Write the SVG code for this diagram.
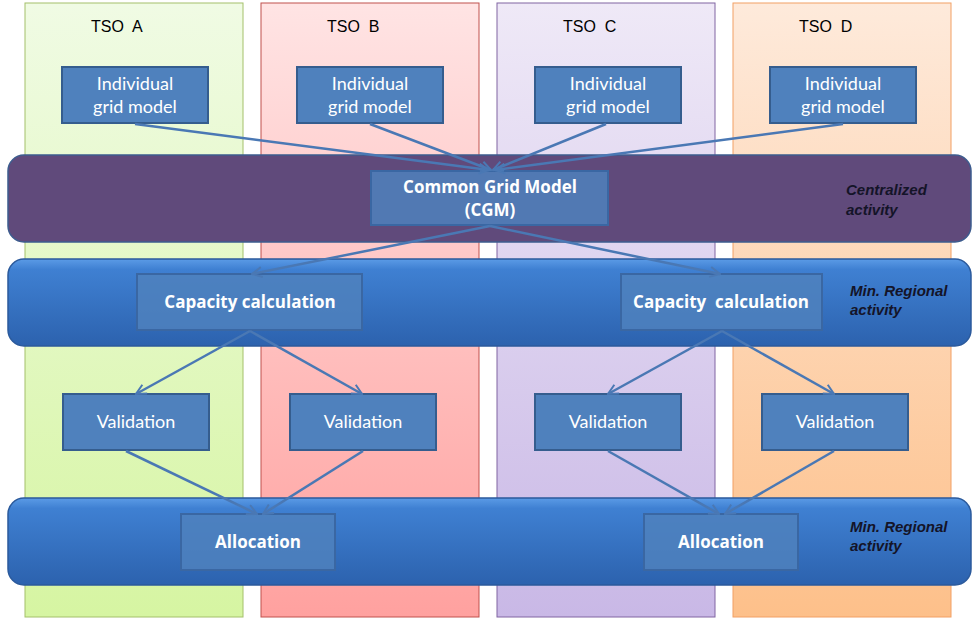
<svg xmlns="http://www.w3.org/2000/svg" width="979" height="626" viewBox="0 0 979 626">
<defs>
<linearGradient id="gA" x1="0" y1="0" x2="0" y2="1"><stop offset="0" stop-color="#f0fbe4"/><stop offset="1" stop-color="#d6f5a2"/></linearGradient>
<linearGradient id="gB" x1="0" y1="0" x2="0" y2="1"><stop offset="0" stop-color="#ffe4e4"/><stop offset="1" stop-color="#ffa19f"/></linearGradient>
<linearGradient id="gC" x1="0" y1="0" x2="0" y2="1"><stop offset="0" stop-color="#efe9f7"/><stop offset="1" stop-color="#c9b8e6"/></linearGradient>
<linearGradient id="gD" x1="0" y1="0" x2="0" y2="1"><stop offset="0" stop-color="#feeadb"/><stop offset="1" stop-color="#fdc08a"/></linearGradient>
<linearGradient id="gBlue" x1="0" y1="0" x2="0" y2="1"><stop offset="0" stop-color="#5b9be6"/><stop offset="0.12" stop-color="#3f80d2"/><stop offset="1" stop-color="#2c62ae"/></linearGradient>
<marker id="ah" viewBox="0 0 12 12" refX="11" refY="6" markerWidth="12" markerHeight="12" markerUnits="userSpaceOnUse" orient="auto">
<polyline points="1,1 11,6 1,11" fill="none" stroke="#4a78b4" stroke-width="2"/>
</marker>
</defs>
<style>
.col{stroke-width:1}
.box{fill:#4f81bd;stroke:#355d8e;stroke-width:2}
.ibox{fill:#4f81bd;fill-opacity:0.85;stroke:#3a67a3;stroke-width:2}
.t{font-family:Lato,"Open Sans",sans-serif;font-size:18px;fill:#ffffff;text-anchor:middle}
.tb{font-family:"Open Sans",Lato,sans-serif;font-size:17px;font-weight:bold;fill:#ffffff;text-anchor:middle}
.hd{font-family:"Liberation Sans",Arial,sans-serif;font-size:16px;fill:#000000}
.note{font-family:"Liberation Sans",Arial,sans-serif;font-size:15px;font-weight:bold;font-style:italic;fill:#141428}
.c{fill:none;stroke:#4a78b4;stroke-width:2.5;marker-end:url(#ah)}
</style>
<rect width="979" height="626" fill="#ffffff"/>
<g id="colA"><rect class="col" x="25" y="3" width="218" height="614" fill="url(#gA)" stroke="#a4c06a"/><text class="hd" x="91" y="32" xml:space="preserve">TSO  A</text></g>
<g id="colB"><rect class="col" x="261" y="3" width="218" height="614" fill="url(#gB)" stroke="#c0504d"/><text class="hd" x="327" y="32" xml:space="preserve">TSO  B</text></g>
<g id="colC"><rect class="col" x="497" y="3" width="218" height="614" fill="url(#gC)" stroke="#8064a2"/><text class="hd" x="563" y="32" xml:space="preserve">TSO  C</text></g>
<g id="colD"><rect class="col" x="733" y="3" width="218" height="614" fill="url(#gD)" stroke="#f2a064"/><text class="hd" x="799" y="32" xml:space="preserve">TSO  D</text></g>

<g id="band-central"><rect x="8" y="155" width="963" height="87" rx="16" fill="#604a7b" stroke="#3d5c8e" stroke-width="1.5"/>
<text class="note" x="846" y="195">Centralized</text><text class="note" x="846" y="215">activity</text></g>
<g id="band-regional1"><rect x="8" y="259" width="963" height="87" rx="16" fill="url(#gBlue)" stroke="#2b5a9c" stroke-width="1.5"/>
<text class="note" x="850" y="296">Min. Regional</text><text class="note" x="850" y="315">activity</text></g>
<g id="band-regional2"><rect x="8" y="498" width="963" height="87" rx="16" fill="url(#gBlue)" stroke="#2b5a9c" stroke-width="1.5"/>
<text class="note" x="850" y="532">Min. Regional</text><text class="note" x="850" y="551">activity</text></g>

<g id="igmA"><rect class="box" x="62" y="67" width="146" height="56"/><text class="t" x="135" y="90">Individual</text><text class="t" x="135" y="113">grid model</text></g>
<g id="igmB"><rect class="box" x="297" y="67" width="146" height="56"/><text class="t" x="370" y="90">Individual</text><text class="t" x="370" y="113">grid model</text></g>
<g id="igmC"><rect class="box" x="535" y="67" width="146" height="56"/><text class="t" x="608" y="90">Individual</text><text class="t" x="608" y="113">grid model</text></g>
<g id="igmD"><rect class="box" x="770" y="67" width="146" height="56"/><text class="t" x="843" y="90">Individual</text><text class="t" x="843" y="113">grid model</text></g>

<g id="cgm"><rect class="ibox" x="371" y="171" width="237" height="54"/><text class="tb" x="490" y="193">Common Grid Model</text><text class="tb" x="490" y="216">(CGM)</text></g>
<g id="cap1"><rect class="ibox" x="137" y="274" width="225" height="56"/><text class="tb" x="250" y="308">Capacity calculation</text></g>
<g id="cap2"><rect class="ibox" x="621" y="274" width="201" height="56"/><text class="tb" x="721" y="308" xml:space="preserve">Capacity  calculation</text></g>

<g id="valA"><rect class="box" x="63" y="394" width="146" height="56"/><text class="t" x="136" y="428">Validation</text></g>
<g id="valB"><rect class="box" x="290" y="394" width="146" height="56"/><text class="t" x="363" y="428">Validation</text></g>
<g id="valC"><rect class="box" x="535" y="394" width="146" height="56"/><text class="t" x="608" y="428">Validation</text></g>
<g id="valD"><rect class="box" x="762" y="394" width="146" height="56"/><text class="t" x="835" y="428">Validation</text></g>

<g id="alloc1"><rect class="ibox" x="181" y="514" width="154" height="56"/><text class="tb" x="258" y="548">Allocation</text></g>
<g id="alloc2"><rect class="ibox" x="644" y="514" width="154" height="56"/><text class="tb" x="721" y="548">Allocation</text></g>

<g id="connectors">
<line class="c" x1="135" y1="124" x2="489" y2="170"/>
<line class="c" x1="370" y1="124" x2="491" y2="170"/>
<line class="c" x1="606" y1="124" x2="493" y2="170"/>
<line class="c" x1="843" y1="124" x2="495" y2="170"/>
<line class="c" x1="490" y1="226" x2="252" y2="274"/>
<line class="c" x1="490" y1="226" x2="720" y2="274"/>
<line class="c" x1="250" y1="331" x2="136" y2="394"/>
<line class="c" x1="250" y1="331" x2="362" y2="394"/>
<line class="c" x1="722" y1="331" x2="608" y2="394"/>
<line class="c" x1="722" y1="331" x2="834" y2="394"/>
<line class="c" x1="126" y1="451" x2="257" y2="514"/>
<line class="c" x1="363" y1="451" x2="263" y2="514"/>
<line class="c" x1="608" y1="451" x2="719" y2="514"/>
<line class="c" x1="834" y1="451" x2="725" y2="514"/>
</g>
</svg>
